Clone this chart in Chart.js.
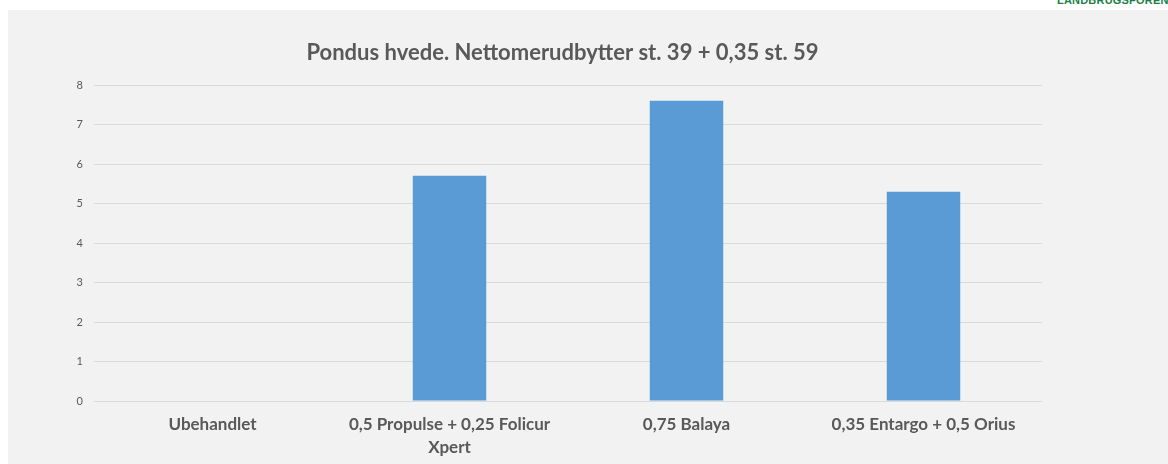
<!DOCTYPE html>
<html>
<head>
<meta charset="utf-8">
<script src="https://cdn.jsdelivr.net/npm/chart.js@4"></script>
<style>
  html, body { margin: 0; padding: 0; background: #ffffff; width: 1168px; height: 464px; overflow: hidden; }
  #logo { position: absolute; left: 1057px; top: -6px; font-family: "Liberation Sans", Arial, sans-serif; font-weight: bold; font-size: 11px; color: #1d7f45; letter-spacing: 0.2px; white-space: nowrap; }
  #wrap { position: absolute; left: 8px; top: 10px; width: 1160px; height: 454px; background: #f2f2f2; }
</style>
</head>
<body>
<div id="logo">LANDBRUGSFORENINGEN</div>
<div id="wrap"><canvas id="c" width="1160" height="454"></canvas></div>
<script>
const titleText = "Pondus hvede. Nettomerudbytter st. 39 + 0,35 st. 59";
const categories = [
  "Ubehandlet",
  ["0,5 Propulse + 0,25 Folicur", "Xpert"],
  "0,75 Balaya",
  "0,35 Entargo + 0,5 Orius"
];
const values = [0, 5.7, 7.6, 5.3];
const yTicks = [0, 1, 2, 3, 4, 5, 6, 7, 8];

const titlePlugin = {
  id: 'customTitle',
  afterDraw(chart) {
    const ctx = chart.ctx;
    ctx.save();
    ctx.font = 'bold 22px Lato, "Open Sans", sans-serif';
    ctx.fillStyle = '#595959';
    ctx.textAlign = 'center';
    ctx.textBaseline = 'middle';
    ctx.fillText(titleText, 554.5, 43);
    ctx.restore();
  }
};

new Chart(document.getElementById('c'), {
  type: 'bar',
  data: {
    labels: categories,
    datasets: [{
      data: values,
      backgroundColor: '#5b9bd5',
      borderWidth: 0,
      categoryPercentage: 0.31,
      barPercentage: 1.0
    }]
  },
  options: {
    responsive: false,
    animation: false,
    layout: { padding: { top: 75, right: 126, left: 0, bottom: 0 } },
    plugins: { legend: { display: false }, tooltip: { enabled: false } },
    scales: {
      x: {
        grid: { display: false, drawTicks: false },
        border: { display: false },
        ticks: {
          color: '#595959',
          font: { family: 'Lato, "Open Sans", sans-serif', size: 17, weight: 'bold', lineHeight: 1.35 },
          padding: 12,
          maxRotation: 0,
          autoSkip: false
        },
        afterFit(scale) { scale.height = 63; }
      },
      y: {
        min: 0, max: 8,
        afterBuildTicks(scale) { scale.ticks = yTicks.map(v => ({ value: v })); },
        grid: { color: '#d9d9d9', lineWidth: 1, drawTicks: false },
        border: { display: false },
        ticks: {
          color: '#595959',
          font: { family: 'Lato, "Open Sans", sans-serif', size: 11 },
          padding: 11
        },
        afterFit(scale) { scale.width = 86; }
      }
    }
  },
  plugins: [titlePlugin]
});
</script>
</body>
</html>
